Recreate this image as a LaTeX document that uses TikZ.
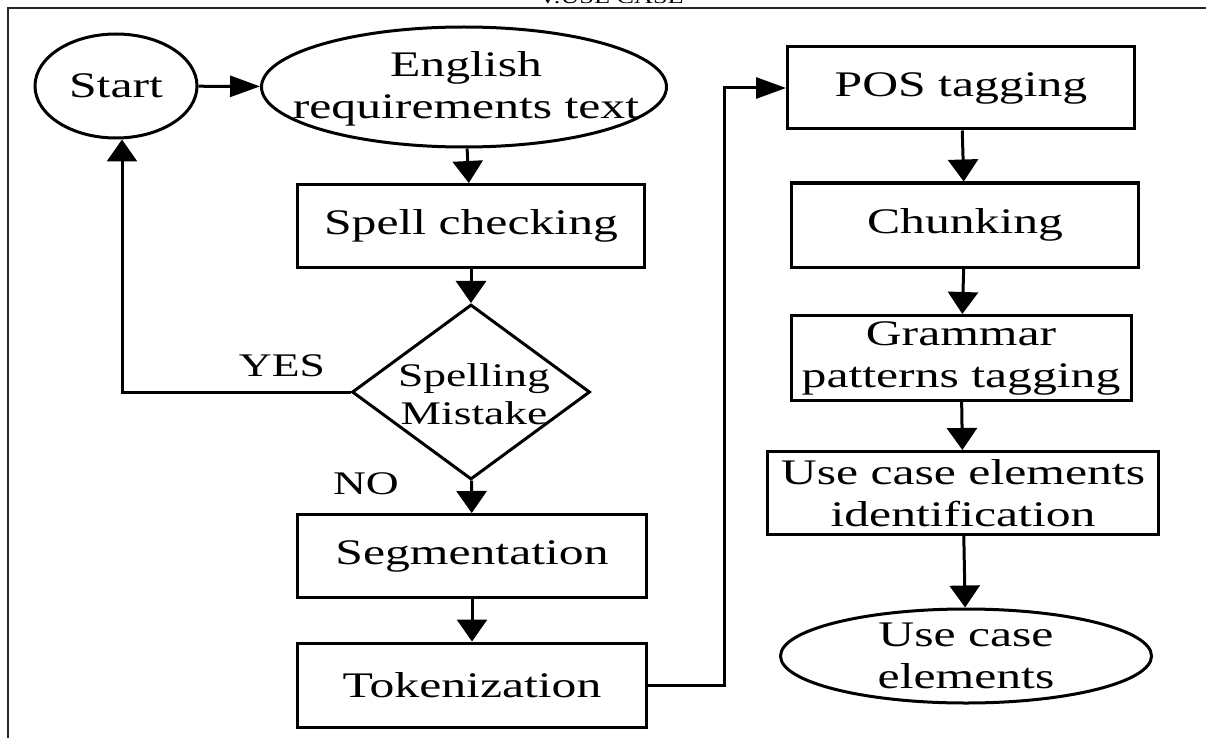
\documentclass[tikz,border=0pt]{standalone}
\usepackage{fontspec}
\setmainfont{Liberation Serif}[FakeStretch=1.38]
\usetikzlibrary{shapes.geometric,arrows.meta}
\newcommand\myfbig{\fontsize{36}{42}\selectfont}
\newcommand\myfmid{\fontsize{33}{38}\selectfont}
\newcommand\myfsmall{\fontsize{19}{22}\selectfont}
\tikzset{
  box/.style={draw, line width=3pt, rectangle, inner sep=0pt, align=center, font=\myfbig},
  oval/.style={draw, line width=3pt, ellipse, inner sep=0pt},
  dshape/.style={draw, line width=3pt, diamond, inner sep=0pt},
  txt/.style={align=center, inner sep=0pt, font=\myfbig},
  link/.style={line width=3pt},
  vtip/.style={-{Triangle[length=22pt,width=30pt]}},
  htip/.style={-{Triangle[length=30pt,width=21pt]}},
  frame/.style={line width=2pt, black!85},
}
\begin{document}
\begin{tikzpicture}[x=1pt,y=-1pt]
\useasboundingbox (0,0) rectangle (1206,738);
\fill[white] (0,0) rectangle (1206,738);
% heading (cut off at top)
\node[font=\myfsmall, anchor=base, inner sep=0pt] (head) at (611,4) {V.USE CASE};
% frame
\coordinate (ftl) at (8,8);
\coordinate (ftr) at (1206,8);
\coordinate (fbl) at (8,738);
\draw[frame] (ftr) -- (ftl) -- (fbl);

% nodes
\node[oval, minimum width=162pt, minimum height=104pt] (start) at (116,86) {};
\node[txt] (starttxt) at (start) {Start};
\node[oval, minimum width=405pt, minimum height=120pt] (eng) at (464,87) {};
\node[txt] (engtxt) at (466,89) {English\\requirements text};
\node[box, minimum width=347pt, minimum height=83pt] (spell) at (471,226) {Spell checking};
\node[dshape, minimum width=238pt, minimum height=175pt] (dia) at (471,392) {};
\node[txt, font=\myfmid] (diatxt) at (474,394) {Spelling\\Mistake};
\node[box, minimum width=349pt, minimum height=83pt] (seg) at (472,556) {Segmentation};
\node[box, minimum width=349pt, minimum height=84pt] (tok) at (472,685) {Tokenization};
\node[box, minimum width=347pt, minimum height=82pt] (pos) at (961,88) {POS tagging};
\node[box, minimum width=347pt, minimum height=84pt] (chunk) at (965,225) {Chunking};
\node[box, minimum width=340pt, minimum height=85pt] (gram) at (961,358) {Grammar\\patterns tagging};
\node[box, minimum width=391pt, minimum height=83pt] (ucei) at (963,493) {Use case elements\\identification};
\node[oval, minimum width=371pt, minimum height=94pt] (fin) at (966,656) {};
\node[txt] (fintxt) at (fin) {Use case\\elements};

% labels
\node[txt, font=\myfmid] (yes) at (282,366) {YES};
\node[txt, font=\myfmid] (no) at (366,484) {NO};

% connectors
\draw[link, htip] (start) -- (eng);
\draw[link, vtip] (eng) -- (spell);
\draw[link, vtip] (spell) -- (dia);
\coordinate (yc) at (122,392);
\draw[link, vtip] (dia.west) -- (yc) -- (yc |- start.south);
\draw[link, vtip] (dia) -- (seg);
\draw[link, vtip] (seg) -- (tok);
\coordinate (tc) at (724,88);
\draw[link, htip] (tok.east) -| (tc) -- (pos.west);
\draw[link, vtip] (pos) -- (chunk);
\draw[link, vtip] (chunk) -- (gram);
\draw[link, vtip] (gram) -- (ucei);
\draw[link, vtip] (ucei) -- (fin);
\end{tikzpicture}
\end{document}
